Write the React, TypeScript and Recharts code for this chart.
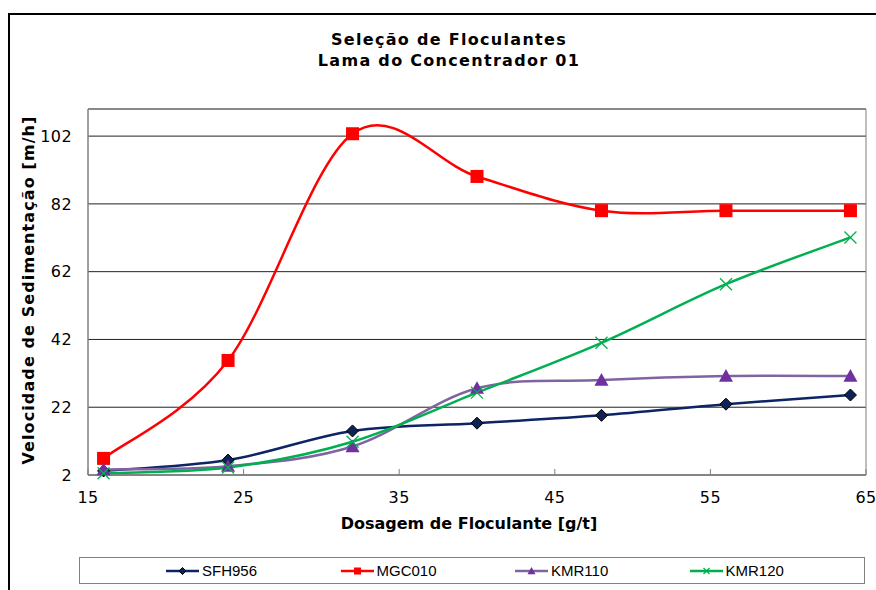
import React from "react";
import {
  LineChart, Line, XAxis, YAxis, CartesianGrid, ReferenceArea,
} from "recharts";

// dosage [g/t]
const DOSAGE = [16, 24, 32, 40, 48, 56, 64];

// settling velocity [m/h] per flocculant
const SFH956 = [3.2, 6.4, 15, 17.3, 19.6, 22.9, 25.6];
const MGC010 = [6.9, 35.8, 102.7, 90.1, 80, 80, 80];
const KMR110 = [3.6, 4.6, 10.4, 27.6, 30, 31.2, 31.2];
const KMR120 = [2.5, 4.2, 11.8, 26.3, 41, 58.3, 72.1];

const X_TICKS = [15, 25, 35, 45, 55, 65];
const Y_TICKS = [2, 22, 42, 62, 82, 102];

const FONT = "'DejaVu Sans', Verdana, sans-serif";

const rows = DOSAGE.map((d, i) => ({
  dose: d,
  SFH956: SFH956[i],
  MGC010: MGC010[i],
  KMR110: KMR110[i],
  KMR120: KMR120[i],
}));

// Catmull-Rom style bezier, close to the spreadsheet "smoothed line"
const smoothCurve = (ctx: any) => {
  let pts: number[][] = [];
  return {
    areaStart() {},
    areaEnd() {},
    lineStart() { pts = []; },
    lineEnd() {
      if (!pts.length) return;
      ctx.moveTo(pts[0][0], pts[0][1]);
      const n = pts.length;
      for (let i = 0; i < n - 1; i++) {
        const p0 = pts[Math.max(i - 1, 0)];
        const p1 = pts[i];
        const p2 = pts[i + 1];
        const p3 = pts[Math.min(i + 2, n - 1)];
        ctx.bezierCurveTo(
          p1[0] + (p2[0] - p0[0]) / 6, p1[1] + (p2[1] - p0[1]) / 6,
          p2[0] - (p3[0] - p1[0]) / 6, p2[1] - (p3[1] - p1[1]) / 6,
          p2[0], p2[1],
        );
      }
    },
    point(x: number, y: number) { pts.push([+x, +y]); },
  };
};

type MarkProps = { cx: number; cy: number; s?: number };

const Diamond = ({ cx, cy, s = 6 }: MarkProps) => (
  <polygon
    points={`${cx},${cy - s} ${cx + s},${cy} ${cx},${cy + s} ${cx - s},${cy}`}
    fill="#0d2257" stroke="#000" strokeWidth={1}
  />
);
const Square = ({ cx, cy, s = 6.5 }: MarkProps) => (
  <rect x={cx - s} y={cy - s} width={s * 2} height={s * 2} fill="#ff0000" />
);
const Triangle = ({ cx, cy, s = 7 }: MarkProps) => (
  <polygon
    points={`${cx},${cy - s} ${cx + s},${cy + s * 0.8} ${cx - s},${cy + s * 0.8}`}
    fill="#7030a0"
  />
);
const Cross = ({ cx, cy, s = 6 }: MarkProps) => (
  <g stroke="#00b050" strokeWidth={1.3}>
    <line x1={cx - s} y1={cy - s} x2={cx + s} y2={cy + s} />
    <line x1={cx - s} y1={cy + s} x2={cx + s} y2={cy - s} />
  </g>
);

const SERIES = [
  { key: "SFH956", color: "#0d2465", Mark: Diamond, small: 3.5 },
  { key: "MGC010", color: "#ff0000", Mark: Square, small: 3.5 },
  { key: "KMR110", color: "#8064a2", Mark: Triangle, small: 4 },
  { key: "KMR120", color: "#00b050", Mark: Cross, small: 3 },
];

const tickStyle = { fill: "#000", fontSize: 16, fontFamily: FONT, letterSpacing: 0.4 };

export default function App() {
  return (
    <div style={{ position: "absolute", left: 0, top: 0, width: 876, height: 590, overflow: "hidden", background: "#fff", fontFamily: FONT }}>
      <div style={{ position: "absolute", left: 8, top: 13, width: 900, height: 620, border: "2px solid #000" }} />

      <div style={{ position: "absolute", left: 199, width: 500, top: 29, textAlign: "center", fontWeight: "bold", fontSize: 16, letterSpacing: 1.3, lineHeight: "21px", color: "#000" }}>
        Seleção de Floculantes<br />Lama do Concentrador 01
      </div>

      <div style={{ position: "absolute", left: 0, top: 0 }}>
        <LineChart width={876} height={590} data={rows} margin={{ top: 109, right: 10, left: 0, bottom: 85 }}>
          <ReferenceArea x1={15} x2={65} y1={2} y2={110} fill="none" stroke="#808080" strokeWidth={1} />
          <CartesianGrid vertical={false} stroke="#222" strokeWidth={1} />
          <XAxis
            dataKey="dose" type="number" domain={[15, 65]} ticks={X_TICKS}
            height={30} stroke="#808080" tickSize={-6} tickMargin={23}
            tick={tickStyle}
          />
          <YAxis
            type="number" domain={[2, 110]} ticks={Y_TICKS} width={88}
            stroke="#808080" tickLine={false} tickSize={0} tickMargin={16}
            tick={tickStyle}
          />
          {SERIES.map(({ key, color, Mark }) => (
            <Line
              key={key}
              dataKey={key}
              type={smoothCurve as any}
              stroke={color}
              strokeWidth={2.5}
              isAnimationActive={false}
              dot={(p: any) => <Mark key={`${key}-${p.index}`} cx={p.cx} cy={p.cy} />}
              activeDot={false}
            />
          ))}
        </LineChart>
      </div>

      <div style={{ position: "absolute", left: 28, top: 290, transform: "translate(-50%, -50%) rotate(-90deg)", whiteSpace: "nowrap", fontWeight: "bold", fontSize: 16, letterSpacing: 1.1, color: "#000" }}>
        Velocidade de Sedimentação [m/h]
      </div>

      <div style={{ position: "absolute", left: 469, top: 523, transform: "translate(-50%, -50%)", whiteSpace: "nowrap", fontWeight: "bold", fontSize: 16, color: "#000" }}>
        Dosagem de Floculante [g/t]
      </div>

      <div style={{ position: "absolute", left: 79, top: 557, width: 786, height: 27, border: "1px solid #808080", display: "flex", alignItems: "center", paddingLeft: 86, boxSizing: "border-box" }}>
        {SERIES.map(({ key, color, Mark, small }) => (
          <div key={key} style={{ width: 177, display: "flex", alignItems: "center" }}>
            <svg width={33} height={12}>
              <line x1={0} y1={6} x2={33} y2={6} stroke={color} strokeWidth={2.5} />
              <Mark cx={16.5} cy={6} s={small} />
            </svg>
            <span style={{ marginLeft: 3, fontFamily: "'Liberation Sans', Arial, sans-serif", fontSize: 15, color: "#000" }}>{key}</span>
          </div>
        ))}
      </div>
    </div>
  );
}
